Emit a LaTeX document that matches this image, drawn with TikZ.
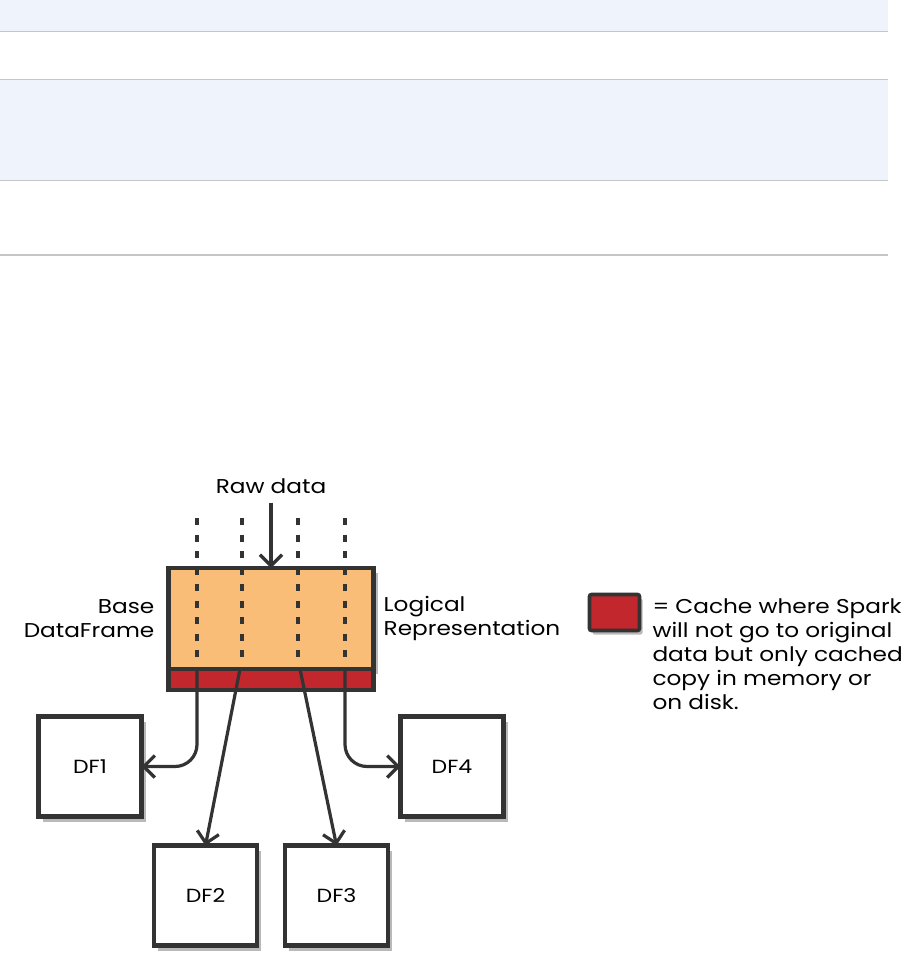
\documentclass[tikz,border=0pt]{standalone}
\usepackage{fontspec}
\setmainfont[FakeStretch=1.16]{Poppins}
\usetikzlibrary{arrows.meta, positioning, shadows, calc}
\definecolor{naranja}{HTML}{F9BD77}
\definecolor{rojoCache}{HTML}{C1272D}
\definecolor{trazo}{HTML}{333333}
\definecolor{filaAzul}{HTML}{EFF4FC}
\definecolor{lineaGris}{HTML}{C6C6C6}

\begin{document}
\begin{tikzpicture}[x=1pt, y=-1pt,
        caja/.style={rectangle, draw=trazo, line width=4.2pt, fill=white, minimum width=103pt, minimum height=100pt, inner sep=0pt, outer sep=0pt, font=\fontsize{19}{22}\selectfont, drop shadow={opacity=0.55, shadow xshift=4pt, shadow yshift=-5pt}},
        flecha/.style={-{Straight Barb[length=11pt, width=22pt]}, line width=3.2pt, draw=trazo},
        punteado/.style={draw=trazo, line width=4pt, dash pattern=on 7pt off 9.5pt},
        etiq/.style={font=\fontsize{20}{24}\selectfont, inner sep=0pt}]

        \useasboundingbox (0,0) rectangle (914,965);

        % Tabla superior
        \fill[filaAzul] (0,0) rectangle (888,31);
        \fill[filaAzul] (0,80) rectangle (888,180);
        \draw[lineaGris, line width=1.2pt] (0,31.5) -- (888,31.5);
        \draw[lineaGris, line width=1.2pt] (0,79.5) -- (888,79.5);
        \draw[lineaGris, line width=1.2pt] (0,180.5) -- (888,180.5);
        \draw[lineaGris, line width=2pt] (0,255) -- (888,255);

        % DataFrame base
        \node[rectangle, draw=trazo, fill=naranja, line width=4.2pt, minimum width=205pt, minimum height=101pt, inner sep=0pt, outer sep=0pt, drop shadow={opacity=0.55, shadow xshift=4pt, shadow yshift=-5pt}] (base) at (271,618.5) {};
        \node[rectangle, draw=trazo, fill=rojoCache, line width=4.2pt, minimum width=205pt, minimum height=21pt, inner sep=0pt, outer sep=0pt, below=0pt of base] (cache) {};
        \foreach \x in {197,242,298,345}
            \draw[punteado] (\x,518) -- (\x,658);

        \node[etiq] (raw) at (271,486) {Raw data};
        \node[etiq, align=right, left=14pt of base] (lblBase) {Base\\DataFrame};
        \node[etiq, align=left, right=10pt of base] (lblLogica) {Logical\\Representation};

        % DataFrames derivados
        \node[caja] (df1) at (90,766.5) {DF1};
        \node[caja] (df2) at (205.5,895.5) {DF2};
        \node[caja] (df3) at (336.5,895.5) {DF3};
        \node[caja] (df4) at (452,766.5) {DF4};

        % Flechas
        \coordinate (c1) at (197,669);
        \coordinate (c2) at (240,669);
        \coordinate (c3) at (300,669);
        \coordinate (c4) at (345,669);
        \draw[flecha, shorten <=9pt] (raw) -- (base.north);
        \draw[flecha, rounded corners=22pt] (c1) |- (df1.east);
        \draw[flecha] (c2) -- (df2.north);
        \draw[flecha] (c3) -- (df3.north);
        \draw[flecha, rounded corners=22pt] (c4) |- (df4.west);

        % Leyenda
        \node[rectangle, draw=trazo, fill=rojoCache, line width=3.6pt, minimum width=50pt, minimum height=36pt, rounded corners=2pt, drop shadow={opacity=0.55, shadow xshift=3pt, shadow yshift=-4pt}] (leyenda) at (614.5,612.5) {};
        \node[etiq, align=left, anchor=north west] (nota) at ([xshift=11pt, yshift=-6pt]leyenda.north east) {= Cache where Spark\\will not go to original\\data but only cached\\copy in memory or\\on disk.};
    \end{tikzpicture}
\end{document}
